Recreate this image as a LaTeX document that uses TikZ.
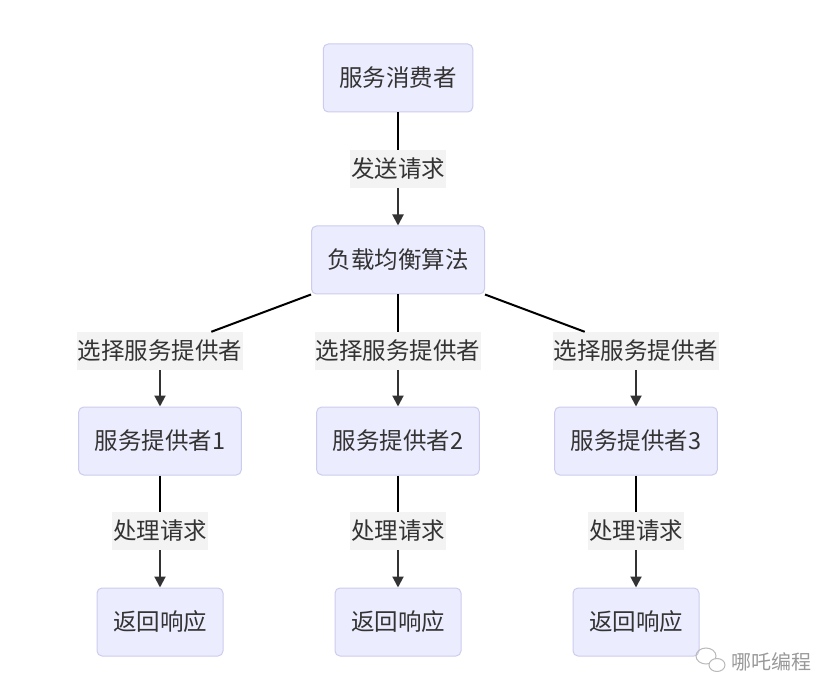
\documentclass[tikz,border=0pt]{standalone}
\usepackage{fontspec}
\setmainfont{Noto Sans CJK SC}
\usetikzlibrary{arrows.meta}
\definecolor{boxfill}{HTML}{ECECFF}
\definecolor{boxline}{HTML}{CCCCEE}
\definecolor{labelbg}{HTML}{F3F3F3}
\definecolor{textgray}{HTML}{333333}
\begin{document}
\begin{tikzpicture}[x=1pt, y=-1pt, font=\fontsize{23.5}{28}\selectfont, text=textgray]
    \tikzstyle{box}=[draw=boxline, fill=boxfill, rounded corners=5pt, line width=1pt, minimum height=68pt, inner xsep=16pt]
    \tikzstyle{lbl}=[fill=labelbg, inner xsep=1pt, inner ysep=0pt, minimum height=38pt]
    \tikzstyle{link}=[line width=2pt, draw=textgray, -{Triangle[length=11pt, width=11pt]}]
    \tikzstyle{line}=[line width=2pt, draw=black]
    \useasboundingbox (0,0) rectangle (835,700);
    % nodes
    \node [box] (cons) at (398,78) {服务消费者};
    \node [lbl] (send) at (398,169) {发送请求};
    \node [box] (lb) at (398,260) {负载均衡算法};
    \node [lbl] (s1) at (160,351) {选择服务提供者};
    \node [lbl] (s2) at (398,351) {选择服务提供者};
    \node [lbl] (s3) at (636,351) {选择服务提供者};
    \node [box] (p1) at (160,441) {服务提供者1};
    \node [box] (p2) at (398,441) {服务提供者2};
    \node [box] (p3) at (636,441) {服务提供者3};
    \node [lbl] (h1) at (160,531) {处理请求};
    \node [lbl] (h2) at (398,531) {处理请求};
    \node [lbl] (h3) at (636,531) {处理请求};
    \node [box] (r1) at (160,622) {返回响应};
    \node [box] (r2) at (398,622) {返回响应};
    \node [box] (r3) at (636,622) {返回响应};
    % edges
    \draw [line] (cons) -- (send);
    \draw [link] (send) -- (lb);
    \draw [line] (lb.south west) -- (s1);
    \draw [line] (lb) -- (s2);
    \draw [line] (lb.south east) -- (s3);
    \foreach \i in {1,2,3} {
        \draw [link] (s\i) -- (p\i);
        \draw [line] (p\i) -- (h\i);
        \draw [link] (h\i) -- (r\i);
    }
    % watermark
    \draw [gray!55, line width=1pt] (706,656) ellipse (10pt and 8pt);
    \draw [gray!55, line width=1pt, fill=white] (717,665) ellipse (8pt and 6.5pt);
    \node [text=gray!80, font=\fontsize{20}{22}\selectfont] (mark) at (771,662) {哪吒编程};
\end{tikzpicture}
\end{document}
